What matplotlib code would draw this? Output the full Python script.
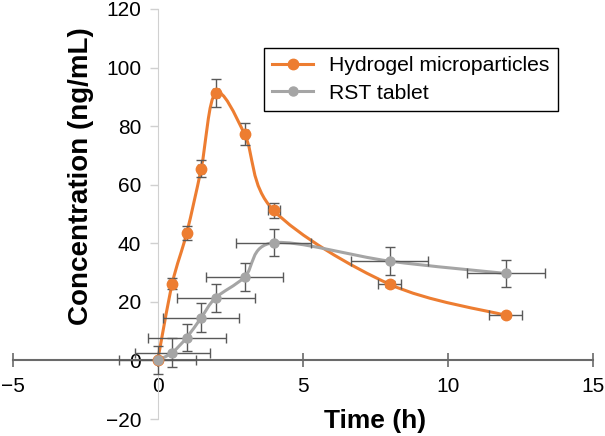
#!/usr/bin/env python3

import numpy as np
import matplotlib
matplotlib.use("Agg")
import matplotlib.pyplot as plt
from matplotlib.path import Path
from matplotlib.patches import PathPatch
from matplotlib.lines import Line2D

plt.rcParams['font.family'] = ['Liberation Sans', 'DejaVu Sans']

time_h = [0, 0.5, 1, 1.5, 2, 3, 4, 8, 12]

hydrogel = [0, 26.2, 43.5, 65.5, 91.3, 77.2, 51.2, 26.0, 15.4]
hydrogel_yerr = [0.5, 1.8, 2.4, 3.0, 4.7, 3.8, 2.4, 1.0, 0.5]
hydrogel_xerr = [0.05, 0.1, 0.1, 0.1, 0.1, 0.1, 0.2, 0.4, 0.57]

rst = [0, 2.7, 7.8, 14.6, 21.4, 28.5, 40.2, 33.9, 29.7]
rst_yerr = [4.8, 5.0, 4.6, 4.9, 4.8, 4.9, 4.7, 4.8, 4.5]
rst_xerr = [1.33, 1.3, 1.35, 1.32, 1.35, 1.32, 1.3, 1.33, 1.34]

series_names = ["Hydrogel microparticles", "RST tablet"]
orange = "#ED7D31"
grey = "#A5A5A5"
bar_col = "#595959"


def smooth_path(xs, ys):
    # Excel style smoothed line: cubic bezier through every point
    pts = np.column_stack([xs, ys]).astype(float)
    n = len(pts)
    verts = [pts[0]]
    codes = [Path.MOVETO]
    for i in range(n - 1):
        p_prev = pts[max(i - 1, 0)]
        p0 = pts[i]
        p1 = pts[i + 1]
        p_next = pts[min(i + 2, n - 1)]
        c1 = p0 + (p1 - p_prev) / 6.0
        c2 = p1 - (p_next - p0) / 6.0
        verts += [c1, c2, p1]
        codes += [Path.CURVE4] * 3
    return Path(verts, codes)


def draw_series(ax, xs, ys, xerr, yerr, col, msize):
    ax.add_patch(PathPatch(smooth_path(xs, ys), fill=False, edgecolor=col,
                           lw=2.2, zorder=3))
    ax.errorbar(xs, ys, xerr=xerr, yerr=yerr, fmt='none', ecolor=bar_col,
                elinewidth=1, capsize=3.5, capthick=1, zorder=4)
    ax.plot(xs, ys, 'o', color=col, ms=msize, zorder=5)


fig = plt.figure(figsize=(6.05, 4.36), dpi=100)
ax = fig.add_axes([12.7 / 605, 17 / 436, 580 / 605, 410 / 436])

draw_series(ax, time_h, hydrogel, hydrogel_xerr, hydrogel_yerr, orange, 7.5)
draw_series(ax, time_h, rst, rst_xerr, rst_yerr, grey, 6.5)

ax.set_xlim(-5, 15)
ax.set_ylim(-20, 120)
ax.set_xticks([-5, 0, 5, 10, 15])
ax.set_yticks(range(-20, 121, 20))
ax.set_xticklabels(["\u22125", "0", "5", "10", "15"])
ax.set_yticklabels(["\u221220"] + [str(v) for v in range(0, 121, 20)])

for s in ["top", "right"]:
    ax.spines[s].set_visible(False)
ax.spines["left"].set_position(("data", 0))
ax.spines["bottom"].set_position(("data", 0))
ax.spines["left"].set_color("#d0d0d0")
ax.spines["bottom"].set_color("#6a6a6a")
ax.spines["bottom"].set_linewidth(1.5)

ax.tick_params(axis="y", direction="out", length=6, width=1, color="#d0d0d0",
               labelsize=15, pad=6)
ax.tick_params(axis="x", direction="inout", length=10, width=1.2,
               color="#6a6a6a", labelsize=15, pad=7)

fig.text(81 / 605, 1 - 176 / 436, "Concentration (ng/mL)", rotation=90,
         ha="center", va="center", fontsize=20, fontweight="bold")
fig.text(375 / 605, 1 - 421 / 436, "Time (h)", ha="center", va="center",
         fontsize=19, fontweight="bold")

handles = [Line2D([], [], color=orange, lw=2.2, marker='o', ms=7.5),
           Line2D([], [], color=grey, lw=2.2, marker='o', ms=6.5)]
leg = ax.legend(handles, series_names, loc="upper left",
                bbox_to_anchor=((264 - 12.7) / 580, 1 - (48 - 9) / 410),
                borderaxespad=0, fontsize=15.2, fancybox=False,
                edgecolor="black", framealpha=1, handlelength=1.9,
                labelspacing=0.4)
leg.get_frame().set_linewidth(1)

fig.savefig("out.png", dpi=100)
